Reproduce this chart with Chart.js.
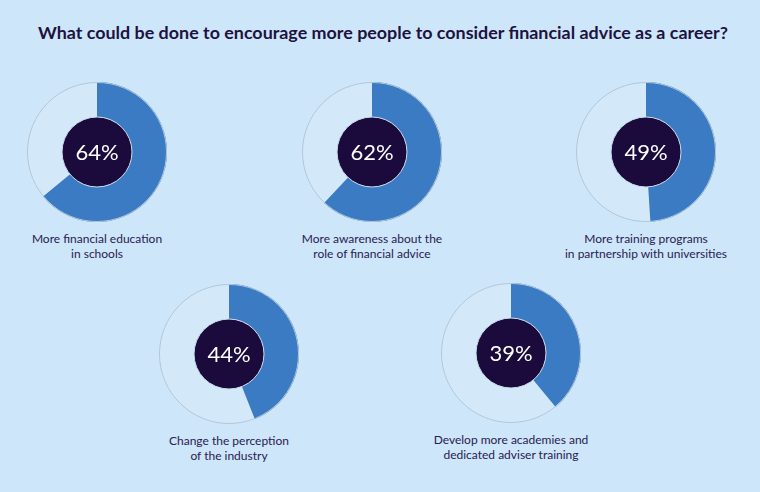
<!DOCTYPE html>
<html>
<head>
<meta charset="utf-8">
<script src="https://cdn.jsdelivr.net/npm/chart.js@4/dist/chart.umd.min.js"></script>
<style>
  html, body { margin: 0; padding: 0; }
  body {
    width: 760px;
    height: 492px;
    background: #cde6f9;
    position: relative;
    overflow: hidden;
    font-family: "Lato", "Open Sans", sans-serif;
    color: #22163f;
  }
  h1 {
    position: absolute;
    top: 21px;
    left: 0;
    width: 766px;
    margin: 0;
    text-align: center;
    font-size: 17.9px;
    font-weight: 700;
    color: #1e1240;
  }
  .donut {
    position: absolute;
    width: 150px;
    height: 150px;
  }
  .label {
    position: absolute;
    width: 240px;
    text-align: center;
    font-size: 12px;
    line-height: 15px;
    color: #2a2050;
  }
</style>
</head>
<body>
<h1>What could be done to encourage more people to consider financial advice as a career?</h1>
<div id="wrap"></div>
<script>
// Data
const categories = [
  ["More financial education", "in schools"],
  ["More awareness about the", "role of financial advice"],
  ["More training programs", "in partnership with universities"],
  ["Change the perception", "of the industry"],
  ["Develop more academies and", "dedicated adviser training"]
]
const percentages = [64, 62, 49, 44, 39]

// layout: centre of each doughnut
const centers = [[97, 152], [372, 152], [646, 152], [229, 354], [511, 353]]

const ringColor = "#3a7bc3"
const holeColor = "#1b0b3d"

const holePlugin = {
  id: "hole",
  beforeDatasetsDraw(chart) {
    const arc = chart.getDatasetMeta(0).data[0]
    if (!arc) return
    const { x, y, outerRadius } = arc.getProps(["x", "y", "outerRadius"], true)
    const ctx = chart.ctx
    ctx.save()
    ctx.beginPath()
    ctx.arc(x, y, outerRadius - 0.5, 0, Math.PI * 2)
    ctx.fillStyle = "#d3e9fa"
    ctx.fill()
    ctx.restore()
  },
  afterDatasetsDraw(chart, args, opts) {
    const arc = chart.getDatasetMeta(0).data[0]
    if (!arc) return
    const { x, y, innerRadius, outerRadius } = arc.getProps(["x", "y", "innerRadius", "outerRadius"], true)
    const ctx = chart.ctx
    ctx.save()
    // thin outline around the ring
    ctx.beginPath()
    ctx.arc(x, y, outerRadius - 0.5, 0, Math.PI * 2)
    ctx.strokeStyle = "#b3c6d6"
    ctx.lineWidth = 1
    ctx.stroke()
    // dark centre
    ctx.beginPath()
    ctx.arc(x, y, innerRadius, 0, Math.PI * 2)
    ctx.fillStyle = holeColor
    ctx.fill()
    ctx.strokeStyle = "#c9dbe9"
    ctx.lineWidth = 1
    ctx.stroke()
    // percentage
    ctx.fillStyle = "#ffffff"
    ctx.font = "400 22px Lato, 'Open Sans', sans-serif"
    ctx.textAlign = "center"
    ctx.textBaseline = "middle"
    ctx.fillText(opts.text, x, y + 1)
    ctx.restore()
  }
}

const wrap = document.getElementById("wrap")

percentages.forEach((value, i) => {
  const [cx, cy] = centers[i]

  const box = document.createElement("div")
  box.className = "donut"
  box.style.left = (cx - 75) + "px"
  box.style.top = (cy - 75) + "px"
  const canvas = document.createElement("canvas")
  box.appendChild(canvas)
  wrap.appendChild(box)

  const label = document.createElement("div")
  label.className = "label"
  label.style.left = (cx - 120) + "px"
  label.style.top = (cy + 79) + "px"
  label.innerHTML = categories[i].join("<br>")
  wrap.appendChild(label)

  new Chart(canvas.getContext("2d"), {
    type: "doughnut",
    data: {
      labels: ["Yes", "Other"],
      datasets: [
        {
          data: [value, 100 - value],
          backgroundColor: [ringColor, "rgba(0,0,0,0)"],
          borderWidth: 0,
          hoverOffset: 0
        }
      ]
    },
    options: {
      responsive: true,
      maintainAspectRatio: false,
      animation: false,
      cutout: "50%",
      layout: { padding: 5 },
      events: [],
      plugins: {
        legend: { display: false },
        tooltip: { enabled: false },
        hole: { text: value + "%" }
      }
    },
    plugins: [holePlugin]
  })
})
</script>
</body>
</html>
